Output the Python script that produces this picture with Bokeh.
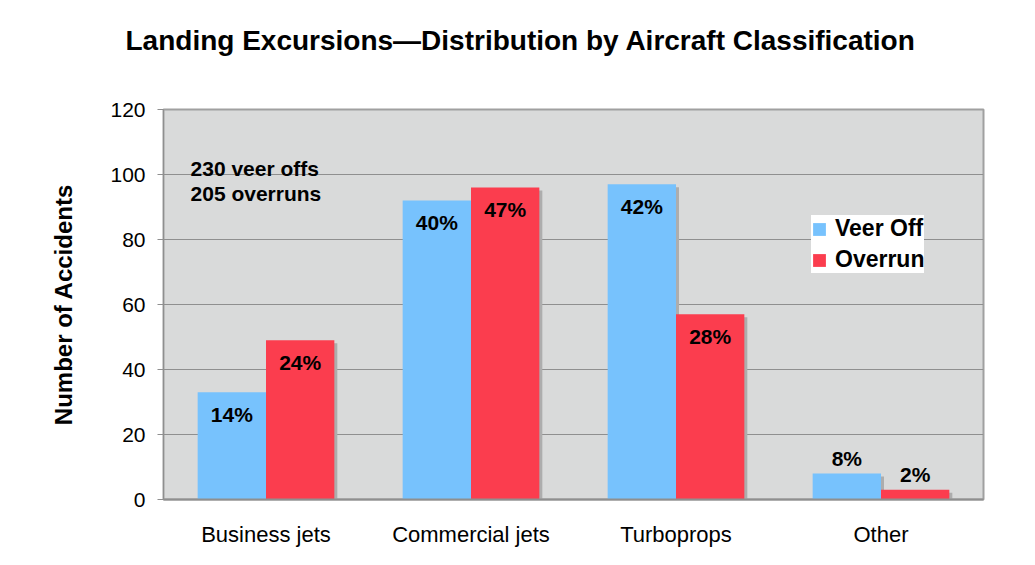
from bokeh.plotting import figure
from bokeh.models import (FactorRange, Range1d, ColumnDataSource, LabelSet, Label,
                          Legend, LegendItem, FixedTicker, Title)
from bokeh.transform import dodge
from bokeh.core.properties import value, field
from bokeh.embed import file_html
from bokeh.resources import INLINE

# ---- data ----
categories = ["Business jets", "Commercial jets", "Turboprops", "Other"]
veer_off = [33, 92, 97, 8]
overrun = [49, 96, 57, 3]
veer_pct = ["14%", "40%", "42%", "8%"]
overrun_pct = ["24%", "47%", "28%", "2%"]
series_names = ["Veer Off", "Overrun"]
y_ticks = [0, 20, 40, 60, 80, 100, 120]
title_text = "Landing Excursions\u2014Distribution by Aircraft Classification"
notes = ["230 veer offs", "205 overruns"]

# ---- style ----
BLUE, RED = "#77C2FD", "#FB3D4E"
SHADOW = "#ADADAD"
FONT = "Liberation Sans"
GRID = "#8f8f8f"

p = figure(width=1019, height=549, x_range=FactorRange(*categories),
           y_range=Range1d(0, 120), output_backend="svg", toolbar_location=None,
           title=None,
           min_border_left=163, min_border_right=36, min_border_top=109,
           min_border_bottom=50)
p.background_fill_color = "#D9DADA"
p.border_fill_color = "white"
p.outline_line_color = "#A0A0A0"
p.outline_line_width = 2

# title (spacer panel between the title and the plot frame)
spacer = Title(text=" ", text_font_size="10px", standoff=36)
title = Title(text=title_text, align="left", offset=-38, text_font=FONT,
              text_font_style="bold", text_font_size="28px", text_color="black",
              standoff=10)
p.add_layout(spacer, "above")
p.add_layout(title, "above")

bw = 1 / 3
sh_dx = 0.0146   # ~3px shadow
sh_dy = 0.9      # ~3px shadow

src = ColumnDataSource(dict(
    cat=categories, veer=veer_off, over=overrun,
    veer_sh=[v - sh_dy for v in veer_off], over_sh=[v - sh_dy for v in overrun],
))

# shadows
p.vbar(x=dodge("cat", -bw / 2 + sh_dx, range=p.x_range), top="veer_sh", width=bw,
       source=src, color=SHADOW, line_color=None)
p.vbar(x=dodge("cat", bw / 2 + sh_dx, range=p.x_range), top="over_sh", width=bw,
       source=src, color=SHADOW, line_color=None)
# bars
r1 = p.vbar(x=dodge("cat", -bw / 2, range=p.x_range), top="veer", width=bw,
            source=src, color=BLUE, line_color=None)
r2 = p.vbar(x=dodge("cat", bw / 2, range=p.x_range), top="over", width=bw,
            source=src, color=RED, line_color=None)

# value labels
def label_source(vals, pcts):
    return ColumnDataSource(dict(cat=categories, y=vals, t=pcts,
                                 dy=[15 if v < 20 else -22 for v in vals]))

for vals, pcts, off in [(veer_off, veer_pct, -bw / 2), (overrun, overrun_pct, bw / 2)]:
    ls = LabelSet(x=dodge("cat", off, range=p.x_range), y="y", text="t",
                  y_offset=field("dy"), source=label_source(vals, pcts),
                  text_align="center", text_baseline="middle",
                  text_font=value(FONT), text_font_style="bold",
                  text_font_size="21px", text_color="black")
    p.add_layout(ls)

# notes
for i, n in enumerate(notes):
    p.add_layout(Label(x=0.132, y=101.8 - i * 7.7, text=n, text_align="left",
                       text_baseline="alphabetic", text_font=FONT,
                       text_font_style="bold", text_font_size="21px", text_color="black"))

# legend
legend = Legend(items=[LegendItem(label=series_names[0], renderers=[r1]),
                       LegendItem(label=series_names[1], renderers=[r2])],
                location=(648, 226), orientation="vertical")
legend.background_fill_color = "white"
legend.background_fill_alpha = 1
legend.border_line_color = None
legend.label_text_font = FONT
legend.label_text_font_style = "bold"
legend.label_text_font_size = "23px"
legend.label_text_color = "black"
legend.glyph_width = 16
legend.glyph_height = 16
legend.label_height = 26
legend.label_standoff = 8
legend.spacing = 4
legend.padding = 8
legend.margin = 0
p.add_layout(legend)

# axes
p.yaxis.ticker = FixedTicker(ticks=y_ticks)
p.yaxis.major_label_text_font = FONT
p.yaxis.major_label_text_font_size = "21px"
p.yaxis.major_label_text_color = "black"
p.yaxis.major_label_standoff = 12
p.yaxis.axis_label = "Number of Accidents"
p.yaxis.axis_label_text_font = FONT
p.yaxis.axis_label_text_font_style = "bold"
p.yaxis.axis_label_text_font_size = "24px"
p.yaxis.axis_label_text_color = "black"
p.yaxis.axis_label_standoff = 30
p.yaxis.axis_line_color = GRID
p.yaxis.major_tick_line_color = GRID
p.yaxis.major_tick_out = 6
p.yaxis.major_tick_in = 0
p.yaxis.minor_tick_line_color = None

p.xaxis.major_tick_line_color = None
p.xaxis.axis_line_color = GRID
p.xaxis.axis_line_width = 2
p.xaxis.major_label_text_font = FONT
p.xaxis.major_label_text_font_size = "22px"
p.xaxis.major_label_text_color = "black"
p.xaxis.major_label_standoff = 16

p.xgrid.grid_line_color = None
p.ygrid.grid_line_color = GRID
p.ygrid.grid_line_width = 1

open("out.html", "w").write(file_html(p, INLINE))
